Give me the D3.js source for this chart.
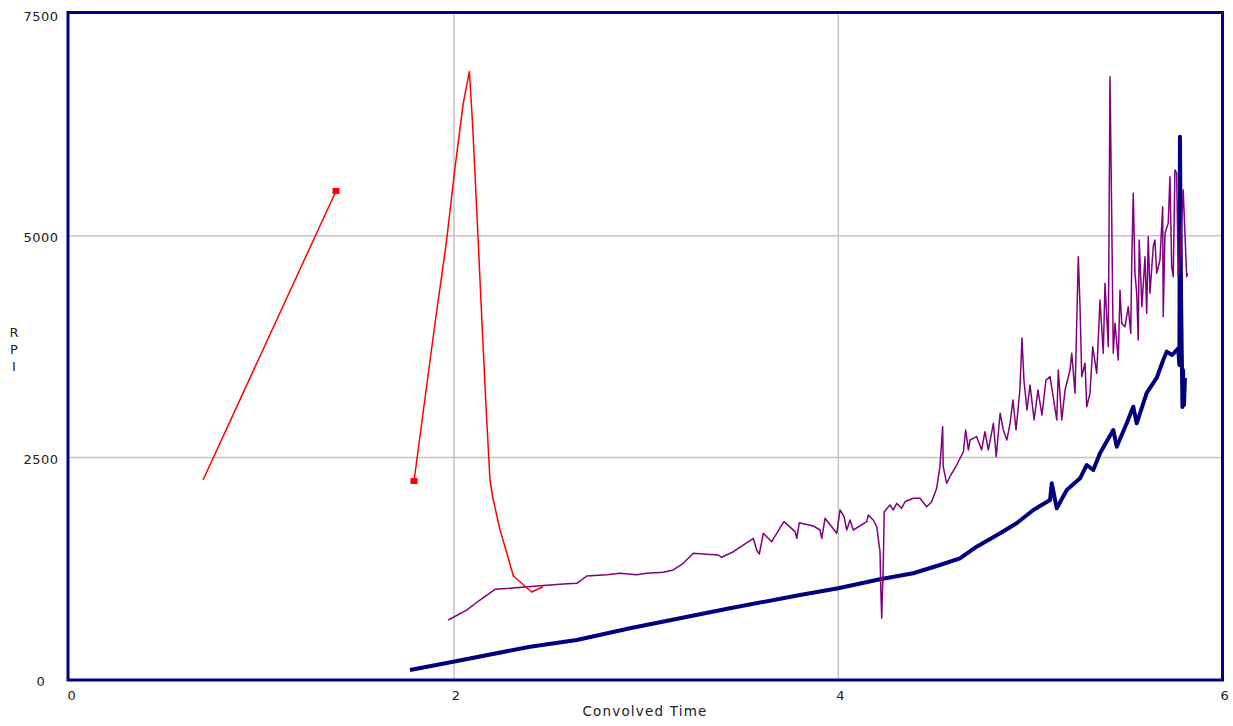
<!DOCTYPE html>
<html>
<head>
<meta charset="utf-8">
<script src="https://cdn.jsdelivr.net/npm/d3@7"></script>
<style>
  html, body { margin: 0; padding: 0; background: #fff; }
  svg { display: block; }
  text { font-family: "DejaVu Sans", Verdana, sans-serif; fill: #222; }
</style>
</head>
<body>
<div id="chart"></div>
<script>
const xTicks = [0, 2, 4, 6];
const yTicks = [0, 2500, 5000, 7500];
const xLabel = "Convolved Time";
const yLabel = "RPI";

// red series, first segment (marker on last point)
const redA = [[0.694, 2245], [1.386, 5506]];

// red series, second segment (marker on first point)
const redB = [
  [1.792, 2234], [1.892, 3867], [1.962, 4957], [2.005, 5765], [2.048, 6491],
  [2.080, 6854], [2.097, 6250], [2.115, 5441], [2.132, 4654], [2.149, 3870],
  [2.167, 3060], [2.187, 2256], [2.201, 2053], [2.239, 1688], [2.309, 1162],
  [2.404, 982], [2.463, 1041]
];

const purple = [
  [1.970, 666], [2.066, 778], [2.135, 891], [2.213, 1012], [2.291, 1023],
  [2.448, 1053], [2.569, 1072], [2.639, 1080], [2.691, 1162], [2.795, 1177],
  [2.864, 1193], [2.951, 1177], [3.003, 1193], [3.089, 1204], [3.141, 1230],
  [3.193, 1305], [3.245, 1418], [3.315, 1407], [3.376, 1399], [3.393, 1373],
  [3.454, 1436], [3.558, 1587], [3.575, 1455], [3.589, 1410], [3.610, 1644],
  [3.653, 1549], [3.717, 1775], [3.775, 1662], [3.784, 1587], [3.797, 1763],
  [3.870, 1726], [3.905, 1681], [3.914, 1587], [3.931, 1813], [3.992, 1644],
  [4.009, 1907], [4.030, 1831], [4.044, 1681], [4.061, 1794], [4.078, 1681],
  [4.148, 1775], [4.156, 1850], [4.182, 1794], [4.200, 1718], [4.217, 1436],
  [4.222, 948], [4.226, 685], [4.234, 1286], [4.239, 1887], [4.269, 1963],
  [4.286, 1907], [4.304, 1982], [4.330, 1926], [4.347, 2000], [4.390, 2039],
  [4.425, 2039], [4.460, 1944], [4.486, 2000], [4.512, 2151], [4.529, 2395],
  [4.543, 2846], [4.546, 2395], [4.564, 2208], [4.581, 2282], [4.616, 2414],
  [4.651, 2564], [4.663, 2809], [4.677, 2584], [4.686, 2696], [4.720, 2734],
  [4.746, 2584], [4.763, 2790], [4.781, 2584], [4.807, 2885], [4.822, 2508],
  [4.842, 2998], [4.859, 2809], [4.877, 2696], [4.894, 2885], [4.909, 3148],
  [4.925, 2809], [4.945, 3260], [4.956, 3847], [4.966, 3373], [4.982, 3035],
  [4.998, 3317], [5.019, 2922], [5.039, 3260], [5.060, 2978], [5.081, 3373],
  [5.102, 3411], [5.137, 2922], [5.145, 3486], [5.163, 2922], [5.180, 3260],
  [5.206, 3486], [5.215, 3675], [5.232, 3223], [5.249, 4764], [5.258, 4200],
  [5.267, 3411], [5.284, 3562], [5.293, 3072], [5.310, 3223], [5.324, 3749],
  [5.345, 3449], [5.362, 4276], [5.379, 3675], [5.388, 4464], [5.405, 3749],
  [5.414, 6795], [5.423, 5216], [5.431, 3675], [5.440, 4013], [5.457, 3599],
  [5.466, 4389], [5.475, 4013], [5.492, 3975], [5.509, 4200], [5.522, 3900],
  [5.527, 4690], [5.535, 5480], [5.544, 4577], [5.553, 4351], [5.561, 3825],
  [5.566, 4953], [5.580, 4200], [5.596, 4764], [5.605, 4126], [5.613, 4990],
  [5.622, 4351], [5.639, 4877], [5.648, 4953], [5.657, 4577], [5.674, 4727],
  [5.688, 5329], [5.691, 4088], [5.700, 5028], [5.717, 5141], [5.726, 5667],
  [5.735, 4652], [5.743, 4539], [5.752, 5743], [5.761, 5705], [5.769, 4539],
  [5.778, 4727], [5.795, 5517], [5.804, 5028], [5.813, 4539], [5.818, 4577]
];

const navy = [
  [1.771, 102], [1.996, 195], [2.396, 364], [2.639, 440], [2.916, 572],
  [3.436, 798], [3.801, 948], [4.000, 1023], [4.217, 1125], [4.390, 1193],
  [4.529, 1286], [4.633, 1362], [4.720, 1493], [4.842, 1644], [4.928, 1757],
  [5.015, 1907], [5.102, 2019], [5.111, 2208], [5.137, 1926], [5.189, 2132],
  [5.258, 2264], [5.293, 2414], [5.327, 2358], [5.362, 2546], [5.431, 2809],
  [5.449, 2621], [5.501, 2885], [5.535, 3072], [5.553, 2885], [5.605, 3227],
  [5.657, 3396], [5.691, 3599], [5.709, 3693], [5.737, 3655], [5.769, 3731],
  [5.775, 3543], [5.778, 6118], [5.784, 4276], [5.791, 3069], [5.794, 3486],
  [5.799, 3091], [5.804, 3396]
];

const width = 1233;
const height = 726;
const plot = { left: 69.7, right: 1222.6, top: 14.2, bottom: 679 };

const x = d3.scaleLinear().domain([0, 6]).range([plot.left, plot.right]);
const y = d3.scaleLinear().domain([0, 7500]).range([plot.bottom, plot.top]);

const svg = d3.select("#chart")
  .append("svg")
  .attr("width", width)
  .attr("height", height);

svg.append("rect")
  .attr("width", width)
  .attr("height", height)
  .attr("fill", "#fff");

// grid
const grid = svg.append("g")
  .attr("stroke", "#c4c4c4")
  .attr("stroke-width", 1.5);
grid.selectAll("line.vx")
  .data(xTicks.filter(d => d > 0 && d < 6))
  .join("line")
  .attr("x1", d => x(d))
  .attr("x2", d => x(d))
  .attr("y1", y(7500))
  .attr("y2", y(0));
grid.selectAll("line.hy")
  .data(yTicks.filter(d => d > 0 && d < 7500))
  .join("line")
  .attr("x1", x(0))
  .attr("x2", x(6))
  .attr("y1", d => y(d))
  .attr("y2", d => y(d));

// axes (labels only)
const fmt = d3.format("d");
const xAxis = svg.append("g")
  .attr("transform", `translate(1.5,${plot.bottom})`)
  .call(d3.axisBottom(x).tickValues(xTicks).tickFormat(fmt).tickSize(0).tickPadding(12));
xAxis.select(".domain").remove();
xAxis.selectAll("text")
  .attr("font-size", 13)
  .attr("font-family", "DejaVu Sans, Verdana, sans-serif")
  .attr("fill", "#222");

const yAxis = svg.append("g")
  .attr("transform", "translate(41,2)")
  .call(d3.axisLeft(y).tickValues(yTicks).tickFormat(fmt).tickSize(0).tickPadding(0));
yAxis.select(".domain").remove();
yAxis.selectAll("text")
  .attr("text-anchor", "middle")
  .attr("x", 0)
  .attr("font-size", 13)
  .attr("letter-spacing", 0.5)
  .attr("font-family", "DejaVu Sans, Verdana, sans-serif")
  .attr("fill", "#222");

svg.append("text")
  .attr("x", 645)
  .attr("y", 716)
  .attr("text-anchor", "middle")
  .attr("font-size", 13.5)
  .attr("letter-spacing", 1.2)
  .text(xLabel);

svg.append("g")
  .selectAll("text")
  .data(yLabel.split(""))
  .join("text")
  .attr("x", 14)
  .attr("y", (d, i) => 337 + i * 17)
  .attr("text-anchor", "middle")
  .attr("font-size", 13)
  .text(d => d);

// series
const line = d3.line()
  .x(d => x(d[0]))
  .y(d => y(d[1]));

const series = [
  { data: navy, color: "#000080", width: 4 },
  { data: purple, color: "#800080", width: 1.5 },
  { data: redA, color: "#ff0000", width: 1.5 },
  { data: redB, color: "#ff0000", width: 1.5 },
];

svg.append("g")
  .attr("fill", "none")
  .selectAll("path")
  .data(series)
  .join("path")
  .attr("d", d => line(d.data))
  .attr("stroke", d => d.color)
  .attr("stroke-width", d => d.width)
  .attr("stroke-linejoin", "round");

const markers = [redA[redA.length - 1], redB[0]];
svg.append("g")
  .selectAll("rect")
  .data(markers)
  .join("rect")
  .attr("x", d => x(d[0]) - 3.5)
  .attr("y", d => y(d[1]) - 3)
  .attr("width", 7)
  .attr("height", 6)
  .attr("fill", "#ff0000");

// frame
svg.append("rect")
  .attr("x", 68)
  .attr("y", 12.5)
  .attr("width", 1222.5 - 68)
  .attr("height", 680 - 12.5)
  .attr("fill", "none")
  .attr("stroke", "#000080")
  .attr("stroke-width", 3);
</script>
</body>
</html>
